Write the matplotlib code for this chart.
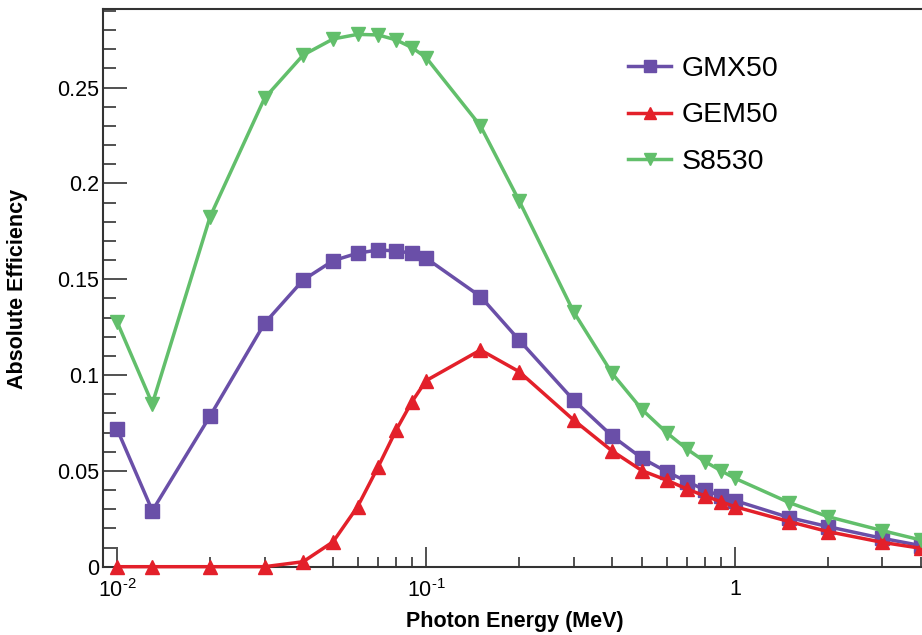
import matplotlib
matplotlib.use("Agg")
import matplotlib.pyplot as plt
import matplotlib.ticker as mticker

plt.rcParams["font.family"] = ["Liberation Sans", "DejaVu Sans"]
plt.rcParams["mathtext.fontset"] = "custom"
plt.rcParams["mathtext.rm"] = "Liberation Sans"
plt.rcParams["mathtext.it"] = "Liberation Sans"
plt.rcParams["mathtext.default"] = "regular"

# photon energies (MeV)
energy = [0.01, 0.013, 0.02, 0.03, 0.04, 0.05, 0.06, 0.07, 0.08, 0.09, 0.1,
          0.15, 0.2, 0.3, 0.4, 0.5, 0.6, 0.7, 0.8, 0.9, 1.0, 1.5, 2.0, 3.0, 4.0]

gmx50 = [0.0717, 0.0292, 0.0787, 0.127, 0.1496, 0.1597, 0.1636, 0.1653, 0.1648,
         0.1636, 0.161, 0.141, 0.1183, 0.087, 0.0682, 0.0566, 0.0496, 0.0444,
         0.040, 0.0369, 0.0345, 0.0256, 0.0209, 0.0148, 0.011]
gem50 = [0.0, 0.0, 0.0, 0.0, 0.0026, 0.013, 0.0313, 0.0522, 0.0713, 0.0861,
         0.0971, 0.1131, 0.1018, 0.0766, 0.0604, 0.0501, 0.0452, 0.0405, 0.0369,
         0.0339, 0.0313, 0.0235, 0.0183, 0.0127, 0.0096]
s8530 = [0.1277, 0.085, 0.1827, 0.2445, 0.267, 0.2754, 0.2778, 0.2775, 0.2749,
         0.2709, 0.2657, 0.230, 0.191, 0.1331, 0.1009, 0.082, 0.070, 0.0613,
         0.0548, 0.0501, 0.0461, 0.0334, 0.0261, 0.0188, 0.0139]

labels = ["GMX50", "GEM50", "S8530"]
colors = ["#6a4fa8", "#e3202a", "#62bf6b"]
markers = ["s", "^", "v"]
xtick_labels = [r"$10^{\text{-2}}$", r"$10^{\text{-1}}$", "1"]

fig = plt.figure(figsize=(9.22, 6.35), dpi=100)
ax = fig.add_axes([103 / 922, 1 - 566.7 / 635, 848 / 922, (566.7 - 8.5) / 635])

for y, lab, c, m in zip([gmx50, gem50, s8530], labels, colors, markers):
    ax.plot(energy, y, color=c, marker=m, markersize=9.5, linewidth=2.5,
            label=lab, clip_on=False, zorder=3)

ax.set_xscale("log")
ax.set_xlim(0.009, 5)
ax.set_ylim(0, 0.2913)

ax.xaxis.set_major_locator(mticker.FixedLocator([0.01, 0.1, 1]))
ax.xaxis.set_major_formatter(mticker.FixedFormatter(xtick_labels))
ax.xaxis.set_minor_locator(mticker.LogLocator(base=10, subs=range(2, 10)))
ax.xaxis.set_minor_formatter(mticker.NullFormatter())

ax.yaxis.set_major_locator(mticker.MultipleLocator(0.05))
ax.yaxis.set_minor_locator(mticker.MultipleLocator(0.01))
ax.yaxis.set_major_formatter(mticker.FuncFormatter(lambda v, p: "0" if v == 0 else f"{v:g}"))

ax.tick_params(axis="both", which="both", direction="in", colors="#333333",
               labelcolor="black", labelsize=15.5, width=1.2)
ax.tick_params(axis="y", which="major", length=17, pad=3)
ax.tick_params(axis="y", which="minor", length=9)
ax.tick_params(axis="x", which="major", length=14.5, pad=9)
ax.tick_params(axis="x", which="minor", length=7)

for side in ["left", "top", "bottom"]:
    ax.spines[side].set_color("#333333")
    ax.spines[side].set_linewidth(1.5)
ax.spines["right"].set_visible(False)

ax.set_xlabel("Photon Energy (MeV)", fontsize=15.5, fontweight="bold")
ax.set_ylabel("Absolute Efficiency", fontsize=15.5, fontweight="bold")
ax.xaxis.set_label_coords(515 / 922, 1 - 611 / 635, transform=fig.transFigure)
ax.yaxis.set_label_coords(28 / 922, 1 - 289 / 635, transform=fig.transFigure)

ax.legend(loc="upper left", bbox_to_anchor=(628 / 922, 1 - 56 / 635),
          bbox_transform=fig.transFigure, frameon=False, fontsize=20.5,
          handlelength=1.52, handletextpad=0.35, labelspacing=0.72,
          borderpad=0, borderaxespad=0, markerscale=0.85)

fig.savefig("out.png", dpi=100)
